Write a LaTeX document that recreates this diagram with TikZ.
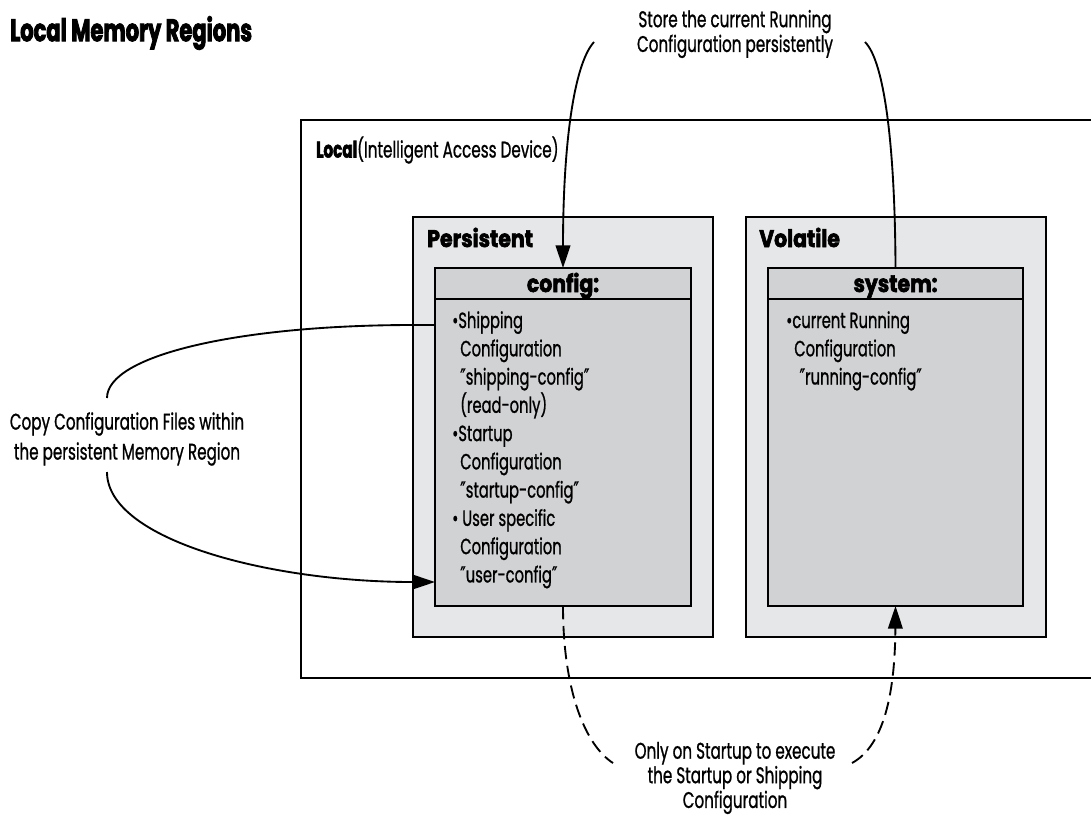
\documentclass[tikz,border=0pt]{standalone}
\usepackage{fontspec}
\setmainfont[FakeStretch=0.67, UprightFeatures={FakeBold=0.9}, BoldFeatures={FakeBold=2.5}]{Poppins}
\newfontfamily\headfont[FakeStretch=0.85, BoldFeatures={FakeBold=2.5}]{Poppins}
\newfontfamily\primefont[FakeStretch=0.67, FakeBold=0.9]{DejaVu Sans}
\newcommand\dq[1]{{\primefont ″}#1{\primefont ″}}
\usetikzlibrary{arrows.meta,fit}
\definecolor{regiongray}{RGB}{230,231,232}
\definecolor{filegray}{RGB}{209,210,212}
\tikzset{
  device/.style={draw, line width=1.7pt, inner sep=0pt},
  region/.style={draw, line width=1.3pt, fill=regiongray, inner sep=0pt},
  filebox/.style={draw, line width=1.3pt, fill=filegray, inner sep=0pt},
  heading/.style={font=\fontsize{18}{20}\headfont\bfseries, inner sep=0pt},
  note/.style={align=center, inner sep=0pt},
  entries/.style={align=left, inner sep=0pt, anchor=north west, font=\fontsize{16.5}{21.2}\selectfont},
  link/.style={line width=1.4pt},
  flow/.style={line width=1.4pt, -{Triangle[length=17pt,width=11pt]}},
  startup/.style={line width=1.4pt, dash pattern=on 10pt off 5pt},
}
\begin{document}
\begin{tikzpicture}[x=0.75pt,y=-0.75pt]
\useasboundingbox (0,0) rectangle (1091,815);
% title
\node[anchor=west, inner sep=0pt, font=\fontsize{23.5}{26}\selectfont\bfseries] (title) at (10,33) {Local Memory Regions};
% device and its memory regions
\node[device, fit={(301,120) (1110,678)}] (local) {};
\node[anchor=west, inner sep=0pt, font=\fontsize{17}{20}\selectfont] (localname) at (316,150) {\textbf{Local}(Intelligent Access Device)};
\node[region, fit={(413,217) (713,637)}] (persist) {};
\node[region, fit={(746,217) (1046,637)}] (volat) {};
\node[heading, anchor=base west] (persistname) at (427,247) {Persistent};
\node[heading, anchor=base west] (volatname) at (759,247) {Volatile};
% file systems
\node[filebox, fit={(435,299) (691,606)}] (configbody) {};
\node[filebox, fit={(435,268) (691,299)}] (confighead) {};
\node[heading, anchor=base] (configname) at (563,292) {config:};
\node[filebox, fit={(768,299) (1023,606)}] (systembody) {};
\node[filebox, fit={(768,268) (1023,299)}] (systemhead) {};
\node[heading, anchor=base] (systemname) at (895.5,292) {system:};
\node[entries] (configfiles) at (452,311) {\textbullet Shipping\\
  \hspace*{6pt}Configuration\\
  \hspace*{6pt}\dq{shipping-config}\\
  \hspace*{6pt}(read-only)\\
  \textbullet Startup\\
  \hspace*{6pt}Configuration\\
  \hspace*{6pt}\dq{startup-config}\\
  \textbullet{} User specific\\
  \hspace*{6pt}Configuration\\
  \hspace*{6pt}\dq{user-config}};
\node[entries] (systemfiles) at (786,311) {\textbullet current Running\\
  \hspace*{6pt}Configuration\\
  \hspace*{10pt}\dq{running-config}};
% notes
\node[note, font=\fontsize{17}{17.3}\selectfont] (storenote) at (735,34) {Store the current Running\\Configuration persistently};
\node[note, font=\fontsize{17}{22.5}\selectfont] (copynote) at (127,439) {Copy Configuration Files within\\the persistent Memory Region};
\node[note, font=\fontsize{17}{16.5}\selectfont] (bootnote) at (735,778) {Only on Startup to execute\\the Startup or Shipping\\Configuration};
% connector ends
\coordinate (storeL) at (594,42);
\coordinate (storeR) at (865,42);
\coordinate (storeIn) at (563,268);
\coordinate (copyOut) at (435,325);
\coordinate (copyIn) at (435,582);
\coordinate (copyA) at (107,398);
\coordinate (copyB) at (107,472);
\coordinate (bootOut) at (563,606);
\coordinate (bootA) at (613,763);
\coordinate (bootB) at (852,763);
\coordinate (bootIn) at (895.5,606);
% store
\draw[link] (systemhead.north) .. controls (895,150) and (885,62) .. (storeR);
\draw[flow] (storeL) .. controls (573,65) and (563,150) .. (storeIn);
% copy
\draw[link] (copyOut) -- (413,325) .. controls (240,325) and (107,355) .. (copyA);
\draw[flow] (copyB) .. controls (107,540) and (270,582) .. (copyIn);
% startup
\draw[startup] (bootOut) .. controls (563,690) and (585,745) .. (bootA);
\draw[startup, -{Triangle[length=17pt,width=11pt]}] (bootB) .. controls (885,745) and (895,690) .. (bootIn);
\end{tikzpicture}
\end{document}
